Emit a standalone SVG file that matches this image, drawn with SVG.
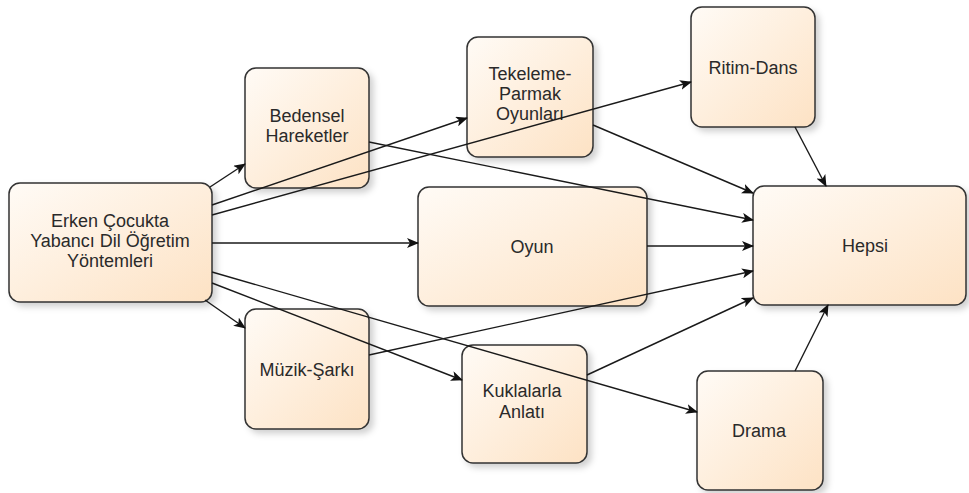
<svg xmlns="http://www.w3.org/2000/svg" width="969" height="493" viewBox="0 0 969 493">
<defs>
<linearGradient id="g" x1="0" y1="0" x2="1" y2="1">
<stop offset="0" stop-color="#fffbf6"/>
<stop offset="1" stop-color="#fde2c4"/>
</linearGradient>
<filter id="sh" x="-10%" y="-10%" width="130%" height="130%">
<feDropShadow dx="4" dy="4" stdDeviation="3" flood-color="#000" flood-opacity="0.18"/>
</filter>
<marker id="ah" viewBox="0 0 12 10" refX="11" refY="5" markerWidth="12" markerHeight="10" markerUnits="userSpaceOnUse" orient="auto">
<path d="M0,0 L12,5 L0,10 L3,5 Z" fill="#111"/>
</marker>
</defs>
<style>
.n rect{fill:url(#g);stroke:#333;stroke-width:1.5;filter:url(#sh)}
.n text{font-family:"Liberation Sans",Arial,sans-serif;font-size:18px;fill:#2a2a2a;text-anchor:middle}
.c line{stroke:#1a1a1a;stroke-width:1.4;fill:none;marker-end:url(#ah)}
</style>
<rect width="969" height="493" fill="#fff"/>
<g id="erken" class="n"><rect x="9" y="183" width="203" height="119" rx="11"/><text x="110" y="227">Erken Çocukta</text><text x="110" y="247">Yabancı Dil Öğretim</text><text x="110" y="267">Yöntemleri</text></g>
<g id="bedensel" class="n"><rect x="245" y="68" width="124" height="120" rx="11"/><text x="307" y="122">Bedensel</text><text x="307" y="142">Hareketler</text></g>
<g id="tekeleme" class="n"><rect x="467" y="37" width="126" height="120" rx="11"/><text x="530" y="80">Tekeleme-</text><text x="530" y="100">Parmak</text><text x="530" y="120">Oyunları</text></g>
<g id="ritim" class="n"><rect x="691" y="7" width="124" height="120" rx="11"/><text x="753" y="74">Ritim-Dans</text></g>
<g id="oyun" class="n"><rect x="418" y="187" width="229" height="119" rx="11"/><text x="532" y="253">Oyun</text></g>
<g id="hepsi" class="n"><rect x="753" y="186" width="213" height="119" rx="11"/><text x="865" y="252">Hepsi</text></g>
<g id="muzik" class="n"><rect x="245" y="309" width="124" height="120" rx="11"/><text x="307" y="376">Müzik-Şarkı</text></g>
<g id="kukla" class="n"><rect x="462" y="345" width="125" height="118" rx="11"/><text x="522" y="397">Kuklalarla</text><text x="522" y="418">Anlatı</text></g>
<g id="drama" class="n"><rect x="697" y="371" width="126" height="119" rx="11"/><text x="759" y="437">Drama</text></g>
<g id="connectors" class="c">
<line x1="210" y1="187" x2="245" y2="164"/>
<line x1="212" y1="205" x2="467" y2="118"/>
<line x1="212" y1="215" x2="691" y2="82"/>
<line x1="212" y1="243" x2="418" y2="243"/>
<line x1="205" y1="300" x2="245" y2="328"/>
<line x1="212" y1="283" x2="462" y2="380"/>
<line x1="212" y1="272" x2="697" y2="412"/>
<line x1="369" y1="142" x2="753" y2="220"/>
<line x1="593" y1="125" x2="753" y2="193"/>
<line x1="795" y1="127" x2="826" y2="186"/>
<line x1="647" y1="246" x2="753" y2="246"/>
<line x1="369" y1="355" x2="753" y2="271"/>
<line x1="587" y1="375" x2="753" y2="298"/>
<line x1="795" y1="371" x2="828" y2="305"/>
</g>
</svg>
